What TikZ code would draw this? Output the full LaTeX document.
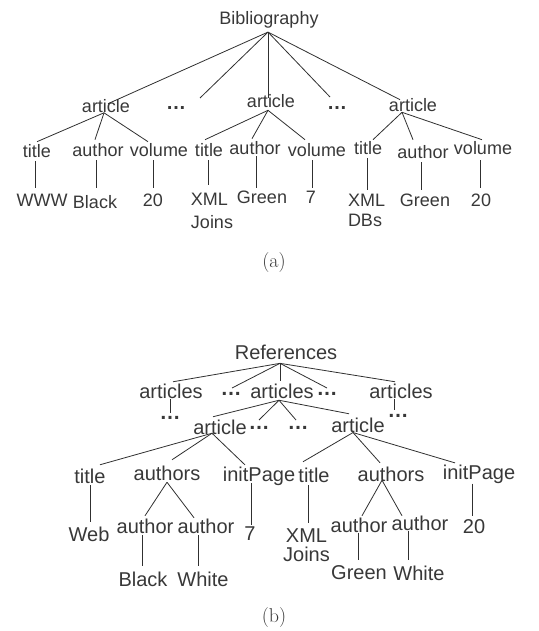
\documentclass[tikz,border=0pt]{standalone}
\usepackage{fontspec}
\newfontfamily\arial{Liberation Sans}
\definecolor{txt}{HTML}{383838}
\definecolor{ln}{HTML}{303030}
\tikzset{
  la/.style={inner sep=0pt, text=txt, font=\arial\fontsize{18}{21}\selectfont},
  lb/.style={inner sep=0pt, text=txt, font=\arial\fontsize{20}{24}\selectfont},
  dda/.style={inner sep=0pt, text=txt, font=\arial\bfseries\fontsize{20}{24}\selectfont},
  ddb/.style={inner sep=0pt, text=txt, font=\arial\bfseries\fontsize{21}{24}\selectfont},
  capt/.style={inner sep=0pt, text=txt, font=\fontsize{20}{24}\selectfont},
  edge/.style={draw=ln, line width=0.8pt}
}
\begin{document}
\begin{tikzpicture}[x=1pt,y=-1pt]
\useasboundingbox (0,0) rectangle (538,631);
% ---------- (a)
\node[la] (bib) at (269,20) {Bibliography};
\node[la] (a1) at (106,106) {article};
\node[dda] (d1) at (176,108) {…};
\node[la] (a2) at (271,101) {article};
\node[dda] (d2) at (337,108) {…};
\node[la] (a3) at (413,105) {article};
\node[la] (t1) at (37,151) {title};
\node[la] (au1) at (98,150) {author};
\node[la] (v1) at (159,150) {volume};
\node[la] (t2) at (209,150) {title};
\node[la] (au2) at (255,148) {author};
\node[la] (v2) at (317,150) {volume};
\node[la] (t3) at (368,148) {title};
\node[la] (au3) at (423,152) {author};
\node[la] (v3) at (483,148) {volume};
\node[la] (w1) at (42,200) {WWW};
\node[la] (bk1) at (95,202) {Black};
\node[la] (n1) at (153,200) {20};
\node[la, align=left, font=\arial\fontsize{18}{23}\selectfont] (x2) at (212,210.5) {XML\\Joins};
\node[la] (g2) at (262,197) {Green};
\node[la] (n2) at (311,197) {7};
\node[la, align=left, font=\arial\fontsize{18}{20}\selectfont] (x3) at (366.5,210) {XML\\DBs};
\node[la] (g3) at (425,200) {Green};
\node[la] (n3) at (481,200) {20};
\node[capt] (capa) at (274,263) {(a)};

\draw[edge] ([shift={(-1pt,-3.5pt)}]bib.south) -- ([shift={(2pt,-4.5pt)}]a1.north);
\draw[edge] ([shift={(-1pt,-3.5pt)}]bib.south) -- ([shift={(24pt,10pt)}]d1.center);
\draw[edge] ([shift={(-1pt,-3.5pt)}]bib.south) -- ([shift={(-3pt,-3.5pt)}]a2.north);
\draw[edge] ([shift={(-1pt,-3.5pt)}]bib.south) -- ([shift={(-7pt,11pt)}]d2.center);
\draw[edge] ([shift={(-1pt,-3.5pt)}]bib.south) -- ([shift={(-13pt,-1.5pt)}]a3.north);

\draw[edge] ([shift={(-2pt,0pt)}]a1.south) -- ([shift={(0pt,2.5pt)}]t1.north);
\draw[edge] ([shift={(-2pt,0pt)}]a1.south) -- ([shift={(-3pt,3.5pt)}]au1.north);
\draw[edge] ([shift={(-2pt,0pt)}]a1.south) -- ([shift={(-11pt,1.5pt)}]v1.north);
\draw[edge] ([shift={(-3pt,-2.5pt)}]a2.south) -- ([shift={(-4pt,3.5pt)}]t2.north);
\draw[edge] ([shift={(-3pt,-2.5pt)}]a2.south) -- ([shift={(-3pt,2.5pt)}]au2.north);
\draw[edge] ([shift={(-3pt,-2.5pt)}]a2.south) -- ([shift={(-12pt,3.5pt)}]v2.north);
\draw[edge] ([shift={(-11pt,-0.5pt)}]a3.south) -- ([shift={(5pt,1.5pt)}]t3.north);
\draw[edge] ([shift={(-11pt,-0.5pt)}]a3.south) -- ([shift={(-10pt,5.5pt)}]au3.north);
\draw[edge] ([shift={(-11pt,-0.5pt)}]a3.south) -- ([shift={(-1pt,1.5pt)}]v3.north);

\draw[edge] ([shift={(-2pt,-3.5pt)}]t1.south) -- ([shift={(-7pt,5.5pt)}]w1.north);
\draw[edge] ([shift={(-2pt,-3.5pt)}]au1.south) -- ([shift={(1pt,7.5pt)}]bk1.north);
\draw[edge] ([shift={(-6pt,-3.5pt)}]v1.south) -- ([shift={(0pt,5.5pt)}]n1.north);
\draw[edge] ([shift={(-1pt,-3.5pt)}]t2.south) -- ([shift={(-4pt,7.5pt)}]x2.north);
\draw[edge] ([shift={(1pt,-1.5pt)}]au2.south) -- ([shift={(-6pt,2.5pt)}]g2.north);
\draw[edge] ([shift={(-5pt,-3.5pt)}]v2.south) -- ([shift={(1pt,2.5pt)}]n2.north);
\draw[edge] ([shift={(-1pt,-3.5pt)}]t3.south) -- ([shift={(0.5pt,3.5pt)}]x3.north);
\draw[edge] ([shift={(-2pt,-3.5pt)}]au3.south) -- ([shift={(-4pt,3.5pt)}]g3.north);
\draw[edge] ([shift={(-3pt,-5.5pt)}]v3.south) -- ([shift={(-1pt,5.5pt)}]n3.north);

% ---------- (b)
\node[lb] (ref) at (286,352) {References};
\node[lb] (as1) at (171,391) {articles};
\node[ddb] (bd1) at (231,394) {…};
\node[lb] (as2) at (282,391) {articles};
\node[ddb] (bd2) at (327,394) {…};
\node[lb] (as3) at (401,391) {articles};
\node[ddb] (bd3) at (170,418) {…};
\node[ddb] (bd4) at (398,416) {…};
\node[lb] (ab1) at (220,427) {article};
\node[ddb] (bd5) at (259,428) {…};
\node[ddb] (bd6) at (298,428) {…};
\node[lb] (ab2) at (358,425) {article};
\node[lb] (tb1) at (90,476) {title};
\node[lb] (ausb1) at (167,473) {authors};
\node[lb] (ipb1) at (259,476) {initPage};
\node[lb] (tb2) at (314,475) {title};
\node[lb] (ausb2) at (391,474) {authors};
\node[lb] (ipb2) at (479,474) {initPage};
\node[lb] (web) at (89,534) {Web};
\node[lb] (aub1a) at (145,526) {author};
\node[lb] (aub1b) at (206,526) {author};
\node[lb] (sev) at (250,534) {7};
\node[lb, align=center, font=\arial\fontsize{20}{18.5}\selectfont] (xb2) at (306.5,545) {XML\\Joins};
\node[lb] (aub2a) at (359,525) {author};
\node[lb] (aub2b) at (420,523) {author};
\node[lb] (tw) at (474,527) {20};
\node[lb] (blk) at (143,579) {Black};
\node[lb] (wh1) at (203,579) {White};
\node[lb] (grn) at (359,573) {Green};
\node[lb] (wh2) at (419,573) {White};
\node[capt] (capb) at (274,618) {(b)};

\draw[edge] ([shift={(-6pt,-3.8pt)}]ref.south) -- ([shift={(2pt,1.7pt)}]as1.north);
\draw[edge] ([shift={(-6pt,-3.8pt)}]ref.south) -- ([shift={(1pt,6pt)}]bd1.center);
\draw[edge] ([shift={(-6pt,-3.8pt)}]ref.south) -- ([shift={(-2pt,2.7pt)}]as2.north);
\draw[edge] ([shift={(-6pt,-3.8pt)}]ref.south) -- ([shift={(0pt,6pt)}]bd2.center);
\draw[edge] ([shift={(-6pt,-3.8pt)}]ref.south) -- ([shift={(-6pt,1.7pt)}]as3.north);

\draw[edge] ([shift={(-1pt,0pt)}]as1.south) -- ([shift={(0pt,5pt)}]bd3.center);
\draw[edge] ([shift={(-7pt,0pt)}]as3.south) -- ([shift={(-4pt,6pt)}]bd4.center);

\draw[edge] ([shift={(-3pt,-1.7pt)}]as2.south) -- ([shift={(-7pt,2.7pt)}]ab1.north);
\draw[edge] ([shift={(-3pt,-1.7pt)}]as2.south) -- ([shift={(0pt,8pt)}]bd5.center);
\draw[edge] ([shift={(-3pt,-1.7pt)}]as2.south) -- ([shift={(-2pt,8pt)}]bd6.center);
\draw[edge] ([shift={(-3pt,-1.7pt)}]as2.south) -- ([shift={(-9pt,3.7pt)}]ab2.north);

\draw[edge] ([shift={(-8pt,1.3pt)}]ab1.south) -- ([shift={(10pt,3.7pt)}]tb1.north);
\draw[edge] ([shift={(-8pt,1.3pt)}]ab1.south) -- ([shift={(5pt,5.7pt)}]ausb1.north);
\draw[edge] ([shift={(-8pt,1.3pt)}]ab1.south) -- ([shift={(-14pt,1.6pt)}]ipb1.north);
\draw[edge] ([shift={(-5pt,0pt)}]ab2.south) -- ([shift={(-11pt,5.7pt)}]tb2.north);
\draw[edge] ([shift={(-5pt,0pt)}]ab2.south) -- ([shift={(-11pt,3.7pt)}]ausb2.north);
\draw[edge] ([shift={(-5pt,0pt)}]ab2.south) -- ([shift={(-24pt,1.6pt)}]ipb2.north);

\draw[edge] ([shift={(0pt,-1.7pt)}]tb1.south) -- ([shift={(1pt,4.7pt)}]web.north);
\draw[edge] ([shift={(0pt,-1.7pt)}]ausb1.south) -- ([shift={(0pt,2.7pt)}]aub1a.north);
\draw[edge] ([shift={(0pt,-1.7pt)}]ausb1.south) -- ([shift={(-12pt,0.7pt)}]aub1b.north);
\draw[edge] ([shift={(-3pt,-1.7pt)}]aub1a.south) -- ([shift={(-1pt,5.8pt)}]blk.north);
\draw[edge] ([shift={(-8pt,-1.7pt)}]aub1b.south) -- ([shift={(-5pt,5.8pt)}]wh1.north);
\draw[edge] ([shift={(-8pt,2.4pt)}]ipb1.south) -- ([shift={(1pt,1.8pt)}]sev.north);
\draw[edge] ([shift={(-6pt,-2.7pt)}]tb2.south) -- ([shift={(1.5pt,5.5pt)}]xb2.north);
\draw[edge] ([shift={(-9pt,1.3pt)}]ausb2.south) -- ([shift={(3pt,1.7pt)}]aub2a.north);
\draw[edge] ([shift={(-9pt,1.3pt)}]ausb2.south) -- ([shift={(-18pt,-0.3pt)}]aub2b.north);
\draw[edge] ([shift={(-1pt,0pt)}]aub2a.south) -- ([shift={(-1pt,5.8pt)}]grn.north);
\draw[edge] ([shift={(-12pt,0pt)}]aub2b.south) -- ([shift={(-11pt,5.8pt)}]wh2.north);
\draw[edge] ([shift={(-7pt,0pt)}]ipb2.south) -- ([shift={(-2pt,3.8pt)}]tw.north);
\end{tikzpicture}
\end{document}
